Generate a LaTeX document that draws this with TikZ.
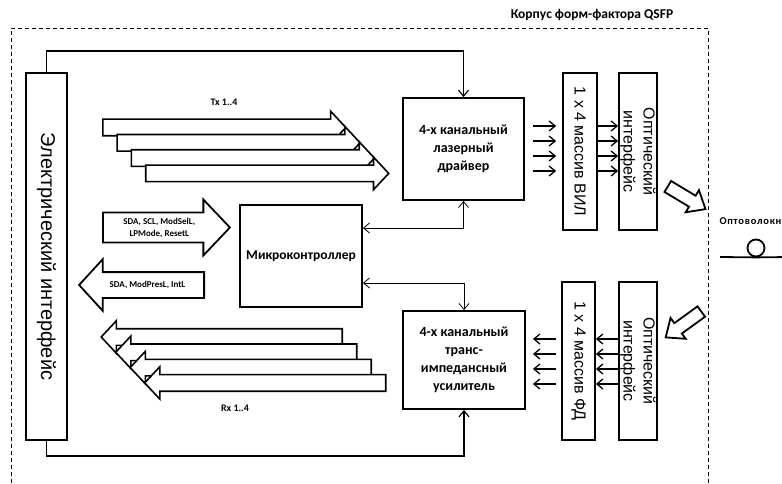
\documentclass[tikz,border=0pt]{standalone}
\usepackage{fontspec}
\setmainfont{Carlito}
\newfontfamily\arialfont{Liberation Sans}
\usetikzlibrary{arrows.meta}
\usetikzlibrary{shapes.arrows}
\usetikzlibrary{calc}

\begin{document}
\begin{tikzpicture}[x=1pt, y=-1pt, >={Straight Barb[length=6pt,width=10pt]},
    block/.style = {draw, line width=1.8pt, rectangle, align=center, inner sep=2pt,
        font=\bfseries\fontsize{14}{18}\selectfont},
    vert/.style = {draw, line width=1.8pt, rectangle, rotate=-90, align=center, inner sep=0pt,
        font=\arialfont\fontsize{16}{20}\selectfont},
    lbl/.style = {font=\bfseries\fontsize{10}{12}\selectfont},
    lane/.style = {draw, fill=white, line width=1.6pt, single arrow, inner xsep=0pt, inner ysep=7.5pt,
        single arrow head extend=8pt, single arrow tip angle=94},
    fat/.style = {draw, fill=white, line width=1.8pt, single arrow, inner xsep=1pt, align=center,
        single arrow head extend=13pt, font=\bfseries\fontsize{9}{12}\selectfont},
    beam/.style = {draw, fill=white, line width=1.8pt, single arrow, inner xsep=0pt, inner ysep=5.5pt,
        single arrow head extend=6.5pt, single arrow tip angle=80, minimum height=44pt},
    sig/.style = {->, line width=1.3pt},
    ctl/.style = {<->, line width=0.8pt},
    bus/.style = {->, line width=1.2pt}]
    \useasboundingbox (0,0) rectangle (782,484);

    % Nodes
    \draw[line width=0.9pt, dash pattern=on 4pt off 3pt] (11,490) -- (11,28) -- (708,28) -- (708,490);
    \node[lbl, font=\bfseries\fontsize{13.5}{16}\selectfont] (title) at (592,15) {Корпус форм-фактора QSFP};

    \node[vert, minimum width=367pt, minimum height=41pt, font=\arialfont\fontsize{20}{24}\selectfont]
        (elec) at (46.5,256.5) {Электрический интерфейс};

    \node[block, minimum width=121pt, minimum height=102pt] (drv) at (463.5,149) {4-х канальный\\лазерный\\драйвер};
    \node[block, minimum width=122pt, minimum height=102pt, font=\bfseries\fontsize{13.5}{16}\selectfont]
        (mcu) at (301,256) {Микроконтроллер};
    \node[block, minimum width=122pt, minimum height=98pt] (tia) at (464,360) {4-х канальный\\транс-\\импедансный\\усилитель};

    \node[vert, minimum width=157pt, minimum height=34pt] (vil) at (580,151.5) {1 x 4 массив ВИЛ};
    \node[vert, minimum width=157pt, minimum height=38pt] (optTx) at (638,151.5) {Оптический\\интерфейс};
    \node[vert, minimum width=158pt, minimum height=33pt] (pd) at (578.5,361) {1 x 4 массив ФД};
    \node[vert, minimum width=158pt, minimum height=38pt] (optRx) at (638,361) {Оптический\\интерфейс};

    \node[lane, minimum height=243pt, anchor=tail] (tx1) at (102,127.5) {};
    \node[lane, minimum height=243pt, anchor=tail] (tx2) at (116.3,142.8) {};
    \node[lane, minimum height=243pt, anchor=tail] (tx3) at (130.6,158.1) {};
    \node[lane, minimum height=243pt, anchor=tail] (tx4) at (144.9,173.4) {};
    \node[lbl] (txl) at (224,102) {Tx 1..4};

    \node[lane, minimum height=241pt, rotate=180, anchor=tail] (rx1) at (343,337) {};
    \node[lane, minimum height=241pt, rotate=180, anchor=tail] (rx2) at (357.5,352.3) {};
    \node[lane, minimum height=241pt, rotate=180, anchor=tail] (rx3) at (372,367.6) {};
    \node[lane, minimum height=241pt, rotate=180, anchor=tail] (rx4) at (386.5,382.9) {};
    \node[lbl] (rxl) at (235,408) {Rx 1..4};

    \node[fat, minimum height=127pt, inner ysep=4.3pt,
        single arrow tip angle=93, anchor=tail] (ctlin) at (102,227.5) {SDA, SCL, ModSelL,\\LPMode, ResetL};
    \node[fat, minimum height=125pt, text height=6.5pt, text depth=2pt, inner ysep=7.75pt,
        single arrow tip angle=95, shape border rotate=180, anchor=tail] (ctlout) at (205,285) {SDA, ModPresL, IntL};

    \node[beam, rotate=-31, anchor=tail] (txout) at (667,186) {};
    \node[beam, rotate=-144, anchor=tail] (rxin) at (702,311) {};

    \node[lbl, anchor=west, font=\bfseries\fontsize{10.5}{13}\selectfont\addfontfeatures{LetterSpace=7}]
        (fib) at (716,221) {Оптоволокно};
    \node[circle, draw, line width=1.8pt, minimum size=17pt, inner sep=0pt] (loop) at (756,248) {};
    \coordinate (f1) at (720,257);
    \coordinate (f2) at (790,257);

    % Edges
    \draw[line width=1.8pt] (f1) -- (loop.south) -- (f2);

    \draw[bus] (elec.west) -- ++(0,-21) -| (drv.north);
    \draw[bus] (elec.east) -- ++(0,15) -| (tia.south);
    \draw[ctl] ([yshift=28pt]mcu.east) -| (drv.south);
    \draw[ctl] ([yshift=-27pt]mcu.east) -| (tia.north);

    \foreach \y in {126,141,156,171} {
        \draw[sig] ($(drv.east |- 0,\y)+(8,0)$) -- ($(vil.south |- 0,\y)+(-6,0)$);
        \draw[sig] (vil.north |- 0,\y) -- (optTx.south |- 0,\y);
    }
    \foreach \y in {339,354,369,384} {
        \draw[sig] (optRx.south |- 0,\y) -- (pd.north |- 0,\y);
        \draw[sig] ($(pd.south |- 0,\y)+(-5,0)$) -- ($(tia.east |- 0,\y)+(7,0)$);
    }

\end{tikzpicture}
\end{document}
